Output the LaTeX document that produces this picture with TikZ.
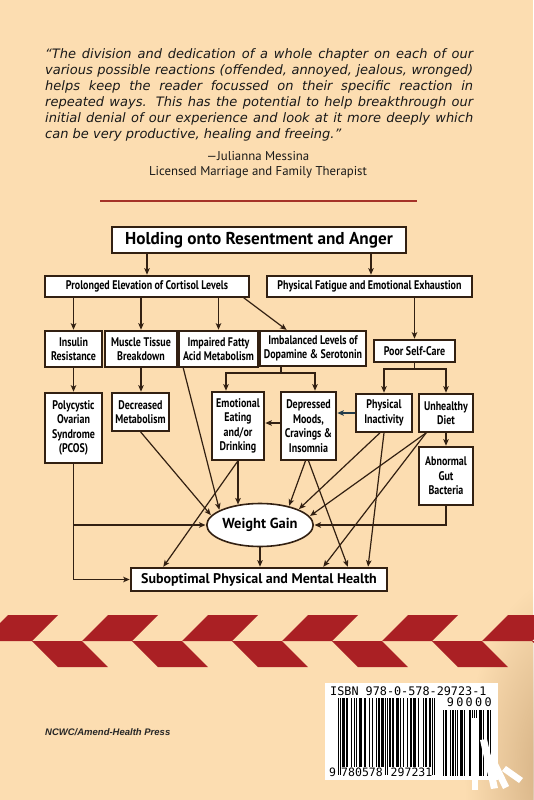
\documentclass[tikz,border=0pt]{standalone}
\usepackage{fontspec}
\setmainfont{DejaVu Sans}
\newfontfamily\boxfont[FakeStretch=0.8]{PT Sans}
\newfontfamily\headfont{PT Sans}
\newfontfamily\pressfont{Liberation Sans}
\newfontfamily\isbnfont{DejaVu Sans Mono}
\usetikzlibrary{arrows.meta,shapes.geometric,fadings}

\definecolor{paper}{RGB}{252,221,177}
\definecolor{ink}{RGB}{50,32,18}
\definecolor{tape}{RGB}{170,32,36}
\definecolor{rulered}{RGB}{165,50,40}
\definecolor{shadowtan}{RGB}{196,158,112}
\definecolor{slate}{RGB}{35,60,75}

\tikzfading[name=fade out, inner color=transparent!0, outer color=transparent!100]

% bars of the barcode, one module per digit (2 = guard bar)
\makeatletter
\newcommand\eanbars[4]{\def\ean@x{#1}\def\ean@t{#2}\def\ean@b{#3}\ean@next#4.}
\def\ean@next#1{\ifx#1.\else
  \ifnum#1=1 \fill ({\ean@x},\ean@t) rectangle ({\ean@x+1.02},\ean@b);\fi
  \ifnum#1=2 \fill ({\ean@x},\ean@t) rectangle ({\ean@x+1.02},\ean@b+8);\fi
  \pgfmathsetmacro\ean@x{\ean@x+1.02}%
  \expandafter\ean@next\fi}
\makeatother

\begin{document}
\begin{tikzpicture}[x=1pt,y=-1pt,>={Stealth[length=6.5pt,width=5.5pt,inset=1.5pt]},shorten >=0.5pt,
  box/.style={draw=ink,fill=white,line width=1.6pt,inner sep=0pt,align=center,
    font=\boxfont\bfseries\fontsize{12.5}{14.5}\selectfont},
  flow/.style={->,draw=ink,line width=1.2pt},
  link/.style={draw=ink,line width=1.2pt}]

 \path[use as bounding box,fill=paper] (0,0) rectangle (533,800);
 \fill[shadowtan,fill opacity=0.8,path fading=fade out] (560,770) ellipse (95 and 190);

 % quote
 \node[anchor=north west,inner sep=0pt,text width=428pt,align=justify,text=black!90,
   font=\itshape\fontsize{13}{16}\selectfont] (quote) at (45,48)
  {\tolerance=10000 “The division and dedication of a whole chapter on each of our\linebreak
   various possible reactions (offended, annoyed, jealous, wronged)\linebreak
   helps keep the reader focussed on their specific reaction in\linebreak
   repeated ways. This has the potential to help breakthrough our\linebreak
   initial denial of our experience and look at it more deeply which\linebreak
   can be very productive, healing and freeing.”};
 \node[font=\headfont\fontsize{12.8}{15}\selectfont,text=black!90] (author) at (258,156) {—Julianna Messina};
 \node[font=\headfont\fontsize{12.8}{15}\selectfont,text=black!90] (role) at (258,172) {Licensed Marriage and Family Therapist};

 \coordinate (rulel) at (100,201);
 \coordinate (ruler) at (417,201);
 \draw[rulered,line width=1.4pt] (rulel) -- (ruler);

 % flow chart
 \node[box,minimum width=294,minimum height=26,font=\headfont\bfseries\fontsize{17.2}{19}\selectfont] (resent) at (259,240) {Holding onto Resentment and Anger};
 \node[box,minimum width=204,minimum height=21] (cortisol) at (147,286.5) {Prolonged Elevation of Cortisol Levels};
 \node[box,minimum width=205,minimum height=21] (fatigue) at (369.5,286.5) {Physical Fatigue and Emotional Exhaustion};
 \node[box,minimum width=57,minimum height=36] (insulin) at (73.5,349) {Insulin\\Resistance};
 \node[box,minimum width=72,minimum height=36] (muscle) at (141,349) {Muscle Tissue\\Breakdown};
 \node[box,minimum width=79,minimum height=36] (fatty) at (218.5,349) {Impaired Fatty\\Acid Metabolism};
 \node[box,minimum width=106,minimum height=35] (imbal) at (313,348.5) {Imbalanced Levels of\\Dopamine \& Serotonin};
 \node[box,minimum width=81,minimum height=22] (selfcare) at (414.5,351) {Poor Self-Care};
 \node[box,minimum width=57,minimum height=70] (pcos) at (73.5,428) {Polycystic\\Ovarian\\Syndrome\\(PCOS)};
 \node[box,minimum width=57,minimum height=38] (decmet) at (140.5,412) {Decreased\\Metabolism};
 \node[box,minimum width=52,minimum height=68] (emoeat) at (238,426) {Emotional\\Eating\\and/or\\Drinking};
 \node[box,minimum width=55,minimum height=68] (depress) at (308.5,426) {Depressed\\Moods,\\Cravings \&\\Insomnia};
 \node[box,minimum width=56,minimum height=38] (inact) at (384,413) {Physical\\Inactivity};
 \node[box,minimum width=54,minimum height=38] (diet) at (446,413) {Unhealthy\\Diet};
 \node[box,minimum width=54,minimum height=58] (gut) at (446,476) {Abnormal\\Gut\\Bacteria};
 \node[box,ellipse,minimum width=104,minimum height=43,font=\headfont\bfseries\fontsize{14.5}{16}\selectfont] (weight) at (260,525) {Weight Gain};
 \node[box,minimum width=256,minimum height=23,font=\headfont\bfseries\fontsize{14}{16}\selectfont] (health) at (259,579.5) {Suboptimal Physical and Mental Health};

 \draw[flow] ([xshift=-112pt]resent.south) -- ([xshift=-112pt]resent.south |- cortisol.north);
 \draw[flow] ([xshift=112pt]resent.south) -- ([xshift=112pt]resent.south |- fatigue.north);
 \draw[flow] (cortisol.south -| insulin.north) -- (insulin.north);
 \draw[flow] (cortisol.south -| muscle.north) -- (muscle.north);
 \draw[flow] (cortisol.south -| fatty.north) -- (fatty.north);
 \draw[flow] ([xshift=-6pt]cortisol.south east) -- ([xshift=-26pt]imbal.north);
 \draw[flow] (fatigue.south -| selfcare.north) -- (selfcare.north);

 \draw[flow] (insulin.south) -- (pcos.north);
 \draw[flow] (muscle.south) -- (muscle.south |- decmet.north);
 \coordinate (imbsplit) at (281,373);
 \draw[link] (imbal.south -| imbsplit) -- (imbsplit);
 \draw[flow] (imbsplit) -| ([xshift=-12pt]emoeat.north);
 \draw[flow] (imbsplit) -| ([xshift=6.5pt]depress.north);
 \coordinate (caresplit) at (414.5,369);
 \draw[link] (selfcare.south) -- (caresplit);
 \draw[flow] (caresplit) -| (inact.north);
 \draw[flow] (caresplit) -| (diet.north);
 \draw[flow,draw=slate] (inact.west) -- (inact.west -| depress.east);
 \draw[flow] ([yshift=3pt]depress.west) -- ([yshift=3pt]depress.west -| emoeat.east);
 \draw[flow] (diet.south) -- (gut.north);

 \draw[flow] (pcos.south) |- (health.west);
 \draw[flow] (pcos.south |- weight.west) -- (weight.west);
 \draw[flow] (gut.south) |- (weight.east);
 \draw[flow] (decmet.south) -- (weight.169);
 \draw[flow] ([xshift=5pt]fatty.south west) -- (weight.160);
 \draw[flow] (emoeat.south) -- (emoeat.south |- weight.140);
 \draw[flow] (emoeat.south) -- ([xshift=-96pt]health.north);
 \draw[flow] ([xshift=-3pt]depress.south) -- (weight.33);
 \draw[flow] (depress.south) -- ([xshift=89pt]health.north);
 \draw[flow] ([xshift=-4pt]inact.south) -- (weight.22);
 \draw[flow] (inact.south) -- ([xshift=109pt]health.north);
 \draw[flow] ([xshift=8pt]diet.south west) -- (weight.10);
 \draw[flow] ([xshift=8pt]diet.south west) -- ([xshift=64pt]health.north);
 \draw[flow] (weight.south) -- (weight.south |- health.north);

 % chevron tape
 \foreach \k in {-1,...,5} {
   \fill[tape] ({108+100*\k},615) -- ++(50,0) -- ++(-26,26) -- ++(-50,0) -- cycle;
   \fill[tape] ({132+100*\k},641) -- ++(50,0) -- ++(26,26) -- ++(-50,0) -- cycle;
 }

 % barcode
 \fill[white] (325,683) rectangle (498,780);
 \node[anchor=west,inner sep=0pt,font=\isbnfont\fontsize{11.8}{13}\selectfont] (isbn) at (330,691) {ISBN 978-0-578-29723-1};
 \node[anchor=east,inner sep=0pt,font=\isbnfont\fontsize{11.8}{13}\selectfont] (price) at (492,702) {\makebox[45pt][s]{9\hfil 0\hfil 0\hfil 0\hfil 0}};
 \eanbars{338}{698}{767}{202 0111011 0001001 0100111 0110001 0010001 0110111 02020
   1101100 1110100 1000100 1101100 1000010 1100110 202}
 \eanbars{443}{710}{776}{1011 0001011 01 0100111 01 0001101 01 0100111 01 0001101}
 \node[anchor=west,inner sep=0pt,font=\isbnfont\fontsize{11.5}{13}\selectfont] (lead) at (329,772) {9};
 \node[inner sep=0pt,font=\isbnfont\fontsize{11.5}{13}\selectfont] (lefthalf) at (362,772) {780578};
 \node[inner sep=0pt,font=\isbnfont\fontsize{11.5}{13}\selectfont] (righthalf) at (411.5,772) {297231};
 \fill[white] (472,718) rectangle (478,790);
 \fill[white] (480,740) -- (487,739) -- (498,788) -- (491,789) -- cycle;
 \fill[white] (487,757) -- (493,753) -- (509,786) -- (503,789) -- cycle;
 \fill[white] (502,771) -- (506,766) -- (523,778) -- (519,783) -- cycle;

 \node[anchor=west,inner sep=0pt,text=black!85,
   font=\pressfont\bfseries\itshape\fontsize{9.5}{11}\selectfont] (press) at (45,732) {NCWC/Amend-Health Press};
\end{tikzpicture}
\end{document}
